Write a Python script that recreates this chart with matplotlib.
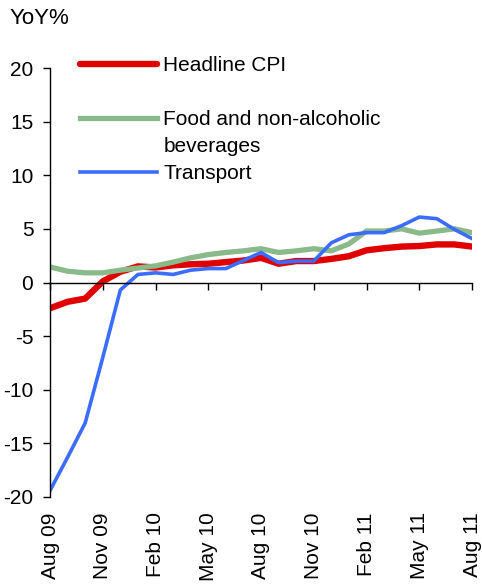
"""Year-on-year inflation: headline CPI, food and transport."""

import matplotlib
matplotlib.use("Agg")
import matplotlib.pyplot as plt

# Data (YoY %, monthly Aug 09 .. Aug 11)

months = [
    "Aug 09", "Sep 09", "Oct 09", "Nov 09", "Dec 09", "Jan 10", "Feb 10",
    "Mar 10", "Apr 10", "May 10", "Jun 10", "Jul 10", "Aug 10", "Sep 10",
    "Oct 10", "Nov 10", "Dec 10", "Jan 11", "Feb 11", "Mar 11", "Apr 11",
    "May 11", "Jun 11", "Jul 11", "Aug 11",
]
headline_cpi = [
    -2.4, -1.8, -1.5, 0.1, 1.0, 1.5, 1.4, 1.6, 1.7, 1.75, 1.9, 2.05, 2.3,
    1.75, 2.0, 2.0, 2.2, 2.45, 3.0, 3.2, 3.35, 3.4, 3.55, 3.55, 3.35,
]
food = [
    1.45, 1.05, 0.9, 0.9, 1.15, 1.35, 1.55, 1.9, 2.3, 2.6, 2.8, 2.95, 3.15,
    2.8, 2.95, 3.15, 2.95, 3.6, 4.8, 4.8, 5.0, 4.6, 4.8, 5.0, 4.65,
]
transport = [
    -19.4, -16.3, -13.1, -7.0, -0.7, 0.75, 0.9, 0.75, 1.15, 1.3, 1.3, 2.05,
    2.8, 1.85, 2.0, 2.0, 3.7, 4.45, 4.65, 4.65, 5.3, 6.1, 5.95, 4.95, 4.1,
]
tick_idx = list(range(0, len(months), 3))
tick_labels = [months[i] for i in tick_idx]

# Graphical parameters

plt.rcParams["font.family"] = ["Liberation Sans", "DejaVu Sans"]
plt.rcParams["font.size"] = 15
plt.rcParams["axes.unicode_minus"] = False

red = "#e00000"
green = "#8aba8a"
blue = "#3a6cff"

fig = plt.figure(figsize=(4.82, 5.88), dpi=100)
ax = fig.add_axes([50 / 482, 1 - 497 / 588, 422 / 482, 429 / 588])

x = list(range(len(months)))
l_cpi, = ax.plot(x, headline_cpi, color=red, lw=4.6,
                 solid_capstyle="round", label="Headline CPI")
l_food, = ax.plot(x, food, color=green, lw=3.8,
                  label="Food and non-alcoholic")
l_tr, = ax.plot(x, transport, color=blue, lw=2.6, label="Transport")

# Axes formatting

ax.set_xlim(0, 24)
ax.set_ylim(-20, 20)
ax.set_yticks(range(-20, 21, 5))
ax.set_xticks(tick_idx)
ax.tick_params(axis="y", direction="out", length=5, width=1, pad=7)
ax.tick_params(axis="x", direction="out", length=5, width=1,
               labelbottom=False)
ax.spines["bottom"].set_position(("data", 0))
for side in ("top", "right"):
    ax.spines[side].set_visible(False)
for side in ("left", "bottom"):
    ax.spines[side].set_linewidth(1.0)

sec = ax.secondary_xaxis(0)
sec.set_xticks(tick_idx, tick_labels, rotation=90)
sec.tick_params(length=0, pad=11)
sec.spines["bottom"].set_visible(False)

# Legend (the long food label wraps onto a second line)

leg = ax.legend(
    handles=[l_cpi, l_food, l_tr],
    loc="upper left", bbox_to_anchor=(0.071, 1.028),
    frameon=False, borderpad=0, borderaxespad=0,
    handlelength=3.7, handletextpad=0.3, labelspacing=1.68,
)
ax.annotate("beverages", xy=(0, 0), xycoords=leg.texts[1],
            xytext=(0, -6), textcoords="offset points",
            ha="left", va="top", zorder=6)

fig.text(10 / 482, 1 - 18 / 588, "YoY%", ha="left", va="center",
         fontsize=16)

fig.savefig("out.png", dpi=100)
